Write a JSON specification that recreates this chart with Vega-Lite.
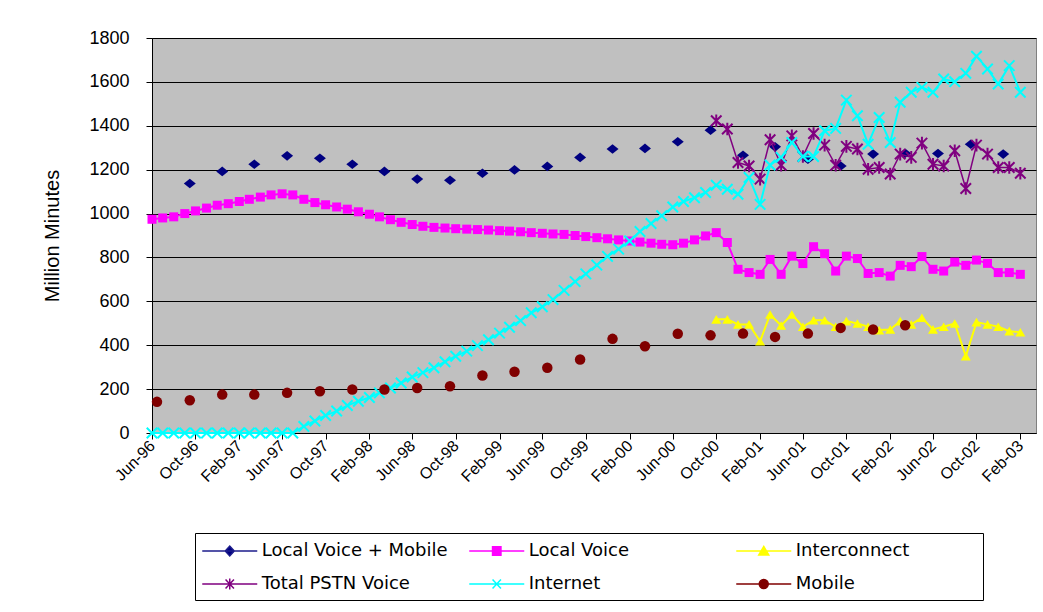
{
  "$schema": "https://vega.github.io/schema/vega-lite/v6.json",
  "width": 884,
  "height": 395,
  "autosize": {"type": "none"},
  "padding": {"left": 152, "top": 38, "right": 7, "bottom": 179},
  "background": "#ffffff",
  "config": {
    "view": {"fill": "#C0C0C0", "stroke": "#808080", "strokeWidth": 1},
    "point": {"opacity": 1}
  },
  "datasets": {
    "lvm": [
      {"date": "1996-09-15", "minutes": 1137}, {"date": "1996-12-15", "minutes": 1192},
      {"date": "1997-03-15", "minutes": 1225}, {"date": "1997-06-15", "minutes": 1263},
      {"date": "1997-09-15", "minutes": 1252}, {"date": "1997-12-15", "minutes": 1225},
      {"date": "1998-03-15", "minutes": 1192}, {"date": "1998-06-15", "minutes": 1157},
      {"date": "1998-09-15", "minutes": 1152}, {"date": "1998-12-15", "minutes": 1184},
      {"date": "1999-03-15", "minutes": 1199}, {"date": "1999-06-15", "minutes": 1215},
      {"date": "1999-09-15", "minutes": 1256}, {"date": "1999-12-15", "minutes": 1294},
      {"date": "2000-03-15", "minutes": 1297}, {"date": "2000-06-15", "minutes": 1327},
      {"date": "2000-09-15", "minutes": 1380}, {"date": "2000-12-15", "minutes": 1266},
      {"date": "2001-03-15", "minutes": 1304}, {"date": "2001-06-15", "minutes": 1248},
      {"date": "2001-09-15", "minutes": 1217}, {"date": "2001-12-15", "minutes": 1271},
      {"date": "2002-03-15", "minutes": 1275}, {"date": "2002-06-15", "minutes": 1274},
      {"date": "2002-09-15", "minutes": 1316}, {"date": "2002-12-15", "minutes": 1271}
    ],
    "mob": [
      {"date": "1996-06-15", "minutes": 142}, {"date": "1996-09-15", "minutes": 149},
      {"date": "1996-12-15", "minutes": 175}, {"date": "1997-03-15", "minutes": 175},
      {"date": "1997-06-15", "minutes": 183}, {"date": "1997-09-15", "minutes": 190},
      {"date": "1997-12-15", "minutes": 198}, {"date": "1998-03-15", "minutes": 198},
      {"date": "1998-06-15", "minutes": 205}, {"date": "1998-09-15", "minutes": 213},
      {"date": "1998-12-15", "minutes": 262}, {"date": "1999-03-15", "minutes": 279},
      {"date": "1999-06-15", "minutes": 297}, {"date": "1999-09-15", "minutes": 335},
      {"date": "1999-12-15", "minutes": 429}, {"date": "2000-03-15", "minutes": 395},
      {"date": "2000-06-15", "minutes": 452}, {"date": "2000-09-15", "minutes": 445},
      {"date": "2000-12-15", "minutes": 453}, {"date": "2001-03-15", "minutes": 438},
      {"date": "2001-06-15", "minutes": 453}, {"date": "2001-09-15", "minutes": 479},
      {"date": "2001-12-15", "minutes": 472}, {"date": "2002-03-15", "minutes": 491}
    ],
    "lv": [
      {"date": "1996-06-01", "minutes": 974}, {"date": "1996-07-01", "minutes": 980}, {"date": "1996-08-01", "minutes": 985}, {"date": "1996-09-01", "minutes": 1000}, {"date": "1996-10-01", "minutes": 1012}, {"date": "1996-11-01", "minutes": 1025}, {"date": "1996-12-01", "minutes": 1038},
      {"date": "1997-01-01", "minutes": 1045}, {"date": "1997-02-01", "minutes": 1055}, {"date": "1997-03-01", "minutes": 1065}, {"date": "1997-04-01", "minutes": 1075}, {"date": "1997-05-01", "minutes": 1085}, {"date": "1997-06-01", "minutes": 1090}, {"date": "1997-07-01", "minutes": 1085}, {"date": "1997-08-01", "minutes": 1065}, {"date": "1997-09-01", "minutes": 1050}, {"date": "1997-10-01", "minutes": 1040}, {"date": "1997-11-01", "minutes": 1030}, {"date": "1997-12-01", "minutes": 1020},
      {"date": "1998-01-01", "minutes": 1008}, {"date": "1998-02-01", "minutes": 997}, {"date": "1998-03-01", "minutes": 985}, {"date": "1998-04-01", "minutes": 972}, {"date": "1998-05-01", "minutes": 960}, {"date": "1998-06-01", "minutes": 950}, {"date": "1998-07-01", "minutes": 942}, {"date": "1998-08-01", "minutes": 937}, {"date": "1998-09-01", "minutes": 934}, {"date": "1998-10-01", "minutes": 931}, {"date": "1998-11-01", "minutes": 929}, {"date": "1998-12-01", "minutes": 927},
      {"date": "1999-01-01", "minutes": 925}, {"date": "1999-02-01", "minutes": 922}, {"date": "1999-03-01", "minutes": 920}, {"date": "1999-04-01", "minutes": 917}, {"date": "1999-05-01", "minutes": 913}, {"date": "1999-06-01", "minutes": 910}, {"date": "1999-07-01", "minutes": 907}, {"date": "1999-08-01", "minutes": 905}, {"date": "1999-09-01", "minutes": 900}, {"date": "1999-10-01", "minutes": 895}, {"date": "1999-11-01", "minutes": 890}, {"date": "1999-12-01", "minutes": 885},
      {"date": "2000-01-01", "minutes": 880}, {"date": "2000-02-01", "minutes": 875}, {"date": "2000-03-01", "minutes": 870}, {"date": "2000-04-01", "minutes": 865}, {"date": "2000-05-01", "minutes": 860}, {"date": "2000-06-01", "minutes": 858}, {"date": "2000-07-01", "minutes": 865}, {"date": "2000-08-01", "minutes": 880}, {"date": "2000-09-01", "minutes": 898}, {"date": "2000-10-01", "minutes": 913}, {"date": "2000-11-01", "minutes": 868}, {"date": "2000-12-01", "minutes": 746},
      {"date": "2001-01-01", "minutes": 731}, {"date": "2001-02-01", "minutes": 723}, {"date": "2001-03-01", "minutes": 791}, {"date": "2001-04-01", "minutes": 723}, {"date": "2001-05-01", "minutes": 806}, {"date": "2001-06-01", "minutes": 772}, {"date": "2001-07-01", "minutes": 849}, {"date": "2001-08-01", "minutes": 817}, {"date": "2001-09-01", "minutes": 738}, {"date": "2001-10-01", "minutes": 806}, {"date": "2001-11-01", "minutes": 795}, {"date": "2001-12-01", "minutes": 727},
      {"date": "2002-01-01", "minutes": 731}, {"date": "2002-02-01", "minutes": 715}, {"date": "2002-03-01", "minutes": 764}, {"date": "2002-04-01", "minutes": 758}, {"date": "2002-05-01", "minutes": 804}, {"date": "2002-06-01", "minutes": 746}, {"date": "2002-07-01", "minutes": 738}, {"date": "2002-08-01", "minutes": 779}, {"date": "2002-09-01", "minutes": 764}, {"date": "2002-10-01", "minutes": 788}, {"date": "2002-11-01", "minutes": 773}, {"date": "2002-12-01", "minutes": 731},
      {"date": "2003-01-01", "minutes": 731}, {"date": "2003-02-01", "minutes": 723}
    ],
    "net": [
      {"date": "1996-06-01", "minutes": 0}, {"date": "1996-07-01", "minutes": 0}, {"date": "1996-08-01", "minutes": 0}, {"date": "1996-09-01", "minutes": 0}, {"date": "1996-10-01", "minutes": 0}, {"date": "1996-11-01", "minutes": 0}, {"date": "1996-12-01", "minutes": 0},
      {"date": "1997-01-01", "minutes": 0}, {"date": "1997-02-01", "minutes": 0}, {"date": "1997-03-01", "minutes": 0}, {"date": "1997-04-01", "minutes": 0}, {"date": "1997-05-01", "minutes": 0}, {"date": "1997-06-01", "minutes": 0}, {"date": "1997-07-01", "minutes": 0}, {"date": "1997-08-01", "minutes": 30}, {"date": "1997-09-01", "minutes": 55}, {"date": "1997-10-01", "minutes": 80}, {"date": "1997-11-01", "minutes": 100}, {"date": "1997-12-01", "minutes": 125},
      {"date": "1998-01-01", "minutes": 145}, {"date": "1998-02-01", "minutes": 162}, {"date": "1998-03-01", "minutes": 183}, {"date": "1998-04-01", "minutes": 205}, {"date": "1998-05-01", "minutes": 228}, {"date": "1998-06-01", "minutes": 255}, {"date": "1998-07-01", "minutes": 275}, {"date": "1998-08-01", "minutes": 297}, {"date": "1998-09-01", "minutes": 325}, {"date": "1998-10-01", "minutes": 350}, {"date": "1998-11-01", "minutes": 373}, {"date": "1998-12-01", "minutes": 398},
      {"date": "1999-01-01", "minutes": 425}, {"date": "1999-02-01", "minutes": 455}, {"date": "1999-03-01", "minutes": 482}, {"date": "1999-04-01", "minutes": 512}, {"date": "1999-05-01", "minutes": 548}, {"date": "1999-06-01", "minutes": 575}, {"date": "1999-07-01", "minutes": 608}, {"date": "1999-08-01", "minutes": 650}, {"date": "1999-09-01", "minutes": 690}, {"date": "1999-10-01", "minutes": 725}, {"date": "1999-11-01", "minutes": 765}, {"date": "1999-12-01", "minutes": 805},
      {"date": "2000-01-01", "minutes": 838}, {"date": "2000-02-01", "minutes": 875}, {"date": "2000-03-01", "minutes": 918}, {"date": "2000-04-01", "minutes": 955}, {"date": "2000-05-01", "minutes": 990}, {"date": "2000-06-01", "minutes": 1030}, {"date": "2000-07-01", "minutes": 1055}, {"date": "2000-08-01", "minutes": 1072}, {"date": "2000-09-01", "minutes": 1096}, {"date": "2000-10-01", "minutes": 1129}, {"date": "2000-11-01", "minutes": 1111}, {"date": "2000-12-01", "minutes": 1088},
      {"date": "2001-01-01", "minutes": 1164}, {"date": "2001-02-01", "minutes": 1042}, {"date": "2001-03-01", "minutes": 1221}, {"date": "2001-04-01", "minutes": 1256}, {"date": "2001-05-01", "minutes": 1324}, {"date": "2001-06-01", "minutes": 1260}, {"date": "2001-07-01", "minutes": 1260}, {"date": "2001-08-01", "minutes": 1377}, {"date": "2001-09-01", "minutes": 1388}, {"date": "2001-10-01", "minutes": 1517}, {"date": "2001-11-01", "minutes": 1446}, {"date": "2001-12-01", "minutes": 1316},
      {"date": "2002-01-01", "minutes": 1438}, {"date": "2002-02-01", "minutes": 1324}, {"date": "2002-03-01", "minutes": 1507}, {"date": "2002-04-01", "minutes": 1553}, {"date": "2002-05-01", "minutes": 1575}, {"date": "2002-06-01", "minutes": 1553}, {"date": "2002-07-01", "minutes": 1613}, {"date": "2002-08-01", "minutes": 1601}, {"date": "2002-09-01", "minutes": 1639}, {"date": "2002-10-01", "minutes": 1717}, {"date": "2002-11-01", "minutes": 1659}, {"date": "2002-12-01", "minutes": 1590},
      {"date": "2003-01-01", "minutes": 1674}, {"date": "2003-02-01", "minutes": 1553}
    ],
    "pstn": [
      {"date": "2000-10-01", "minutes": 1423}, {"date": "2000-11-01", "minutes": 1385}, {"date": "2000-12-01", "minutes": 1233},
      {"date": "2001-01-01", "minutes": 1217}, {"date": "2001-02-01", "minutes": 1157}, {"date": "2001-03-01", "minutes": 1336}, {"date": "2001-04-01", "minutes": 1220}, {"date": "2001-05-01", "minutes": 1354}, {"date": "2001-06-01", "minutes": 1260}, {"date": "2001-07-01", "minutes": 1365}, {"date": "2001-08-01", "minutes": 1312}, {"date": "2001-09-01", "minutes": 1220}, {"date": "2001-10-01", "minutes": 1306}, {"date": "2001-11-01", "minutes": 1294}, {"date": "2001-12-01", "minutes": 1202},
      {"date": "2002-01-01", "minutes": 1210}, {"date": "2002-02-01", "minutes": 1180}, {"date": "2002-03-01", "minutes": 1271}, {"date": "2002-04-01", "minutes": 1256}, {"date": "2002-05-01", "minutes": 1321}, {"date": "2002-06-01", "minutes": 1225}, {"date": "2002-07-01", "minutes": 1217}, {"date": "2002-08-01", "minutes": 1286}, {"date": "2002-09-01", "minutes": 1114}, {"date": "2002-10-01", "minutes": 1312}, {"date": "2002-11-01", "minutes": 1271}, {"date": "2002-12-01", "minutes": 1210},
      {"date": "2003-01-01", "minutes": 1210}, {"date": "2003-02-01", "minutes": 1184}
    ],
    "ic": [
      {"date": "2000-10-01", "minutes": 518}, {"date": "2000-11-01", "minutes": 518}, {"date": "2000-12-01", "minutes": 495},
      {"date": "2001-01-01", "minutes": 495}, {"date": "2001-02-01", "minutes": 418}, {"date": "2001-03-01", "minutes": 540}, {"date": "2001-04-01", "minutes": 490}, {"date": "2001-05-01", "minutes": 540}, {"date": "2001-06-01", "minutes": 484}, {"date": "2001-07-01", "minutes": 514}, {"date": "2001-08-01", "minutes": 514}, {"date": "2001-09-01", "minutes": 484}, {"date": "2001-10-01", "minutes": 510}, {"date": "2001-11-01", "minutes": 499}, {"date": "2001-12-01", "minutes": 484},
      {"date": "2002-01-01", "minutes": 469}, {"date": "2002-02-01", "minutes": 472}, {"date": "2002-03-01", "minutes": 510}, {"date": "2002-04-01", "minutes": 495}, {"date": "2002-05-01", "minutes": 525}, {"date": "2002-06-01", "minutes": 472}, {"date": "2002-07-01", "minutes": 484}, {"date": "2002-08-01", "minutes": 499}, {"date": "2002-09-01", "minutes": 350}, {"date": "2002-10-01", "minutes": 505}, {"date": "2002-11-01", "minutes": 495}, {"date": "2002-12-01", "minutes": 484},
      {"date": "2003-01-01", "minutes": 464}, {"date": "2003-02-01", "minutes": 459}
    ],
    "keys": [
      {"series": "Local Voice + Mobile"}, {"series": "Local Voice"}, {"series": "Interconnect"},
      {"series": "Total PSTN Voice"}, {"series": "Internet"}, {"series": "Mobile"}
    ]
  },
  "encoding": {
    "x": {
      "field": "date",
      "type": "temporal",
      "scale": {
        "type": "utc",
        "domain": [
          {"year": 1996, "month": 6, "date": 1, "utc": true},
          {"year": 2003, "month": 3, "date": 17, "utc": true}
        ]
      },
      "axis": {
        "values": [
          {"year": 1996, "month": 6, "date": 1, "utc": true}, {"year": 1996, "month": 10, "date": 1, "utc": true},
          {"year": 1997, "month": 2, "date": 1, "utc": true}, {"year": 1997, "month": 6, "date": 1, "utc": true}, {"year": 1997, "month": 10, "date": 1, "utc": true},
          {"year": 1998, "month": 2, "date": 1, "utc": true}, {"year": 1998, "month": 6, "date": 1, "utc": true}, {"year": 1998, "month": 10, "date": 1, "utc": true},
          {"year": 1999, "month": 2, "date": 1, "utc": true}, {"year": 1999, "month": 6, "date": 1, "utc": true}, {"year": 1999, "month": 10, "date": 1, "utc": true},
          {"year": 2000, "month": 2, "date": 1, "utc": true}, {"year": 2000, "month": 6, "date": 1, "utc": true}, {"year": 2000, "month": 10, "date": 1, "utc": true},
          {"year": 2001, "month": 2, "date": 1, "utc": true}, {"year": 2001, "month": 6, "date": 1, "utc": true}, {"year": 2001, "month": 10, "date": 1, "utc": true},
          {"year": 2002, "month": 2, "date": 1, "utc": true}, {"year": 2002, "month": 6, "date": 1, "utc": true}, {"year": 2002, "month": 10, "date": 1, "utc": true},
          {"year": 2003, "month": 2, "date": 1, "utc": true}
        ],
        "labelExpr": "utcFormat(datum.value, '%b-%y')",
        "labelAngle": -45,
        "labelAlign": "right",
        "labelBaseline": "middle",
        "labelFont": "Liberation Sans",
        "labelFontSize": 16,
        "labelColor": "#000000",
        "labelPadding": 4,
        "labelOverlap": false,
        "labelBound": false,
        "grid": false,
        "domainColor": "#000000",
        "domainWidth": 1,
        "tickColor": "#000000",
        "tickSize": 6,
        "title": null
      }
    },
    "y": {
      "field": "minutes",
      "type": "quantitative",
      "scale": {"domain": [0, 1800], "nice": false, "zero": true},
      "axis": {
        "values": [0, 200, 400, 600, 800, 1000, 1200, 1400, 1600, 1800],
        "format": "d",
        "grid": true,
        "gridColor": "#000000",
        "gridWidth": 1,
        "domainColor": "#000000",
        "tickColor": "#000000",
        "tickSize": 6,
        "labelFont": "Liberation Sans",
        "labelFontSize": 18,
        "labelColor": "#000000",
        "labelPadding": 17,
        "title": "Million Minutes",
        "titleFont": "Liberation Sans",
        "titleFontSize": 20,
        "titleFontWeight": "normal",
        "titleColor": "#000000",
        "titleAngle": 270,
        "titleAlign": "center",
        "titleBaseline": "middle",
        "titleX": -100,
        "titleY": 197.5
      }
    }
  },
  "layer": [
    {
      "data": {"name": "lvm"},
      "mark": {"type": "point", "shape": "M-1,0L0,-0.8L1,0L0,0.8Z", "filled": true, "color": "#000080", "size": 144, "opacity": 1, "strokeWidth": 0}
    },
    {
      "data": {"name": "lv"},
      "mark": {"type": "line", "color": "#FF00FF", "strokeWidth": 2,
        "point": {"shape": "square", "filled": true, "color": "#FF00FF", "size": 81, "opacity": 1, "strokeWidth": 0}}
    },
    {
      "data": {"name": "ic"},
      "mark": {"type": "line", "color": "#FFFF00", "strokeWidth": 2,
        "point": {"shape": "triangle-up", "filled": true, "color": "#FFFF00", "size": 100, "opacity": 1, "strokeWidth": 0}}
    },
    {
      "data": {"name": "pstn"},
      "mark": {"type": "line", "color": "#800080", "strokeWidth": 1.5,
        "point": {"shape": "M-1,-1L1,1M-1,1L1,-1M0,-1.2V1.2", "filled": false, "color": "#800080", "size": 110, "opacity": 1, "strokeWidth": 2}}
    },
    {
      "data": {"name": "net"},
      "mark": {"type": "line", "color": "#00FFFF", "strokeWidth": 2,
        "point": {"shape": "M-1,-1L1,1M-1,1L1,-1", "filled": false, "color": "#00FFFF", "size": 110, "opacity": 1, "strokeWidth": 2}}
    },
    {
      "data": {"name": "mob"},
      "mark": {"type": "point", "shape": "circle", "filled": true, "color": "#800000", "size": 110, "opacity": 1, "strokeWidth": 0}
    },
    {
      "data": {"name": "keys"},
      "transform": [{"filter": "false"}],
      "mark": {"type": "point", "filled": true, "opacity": 1, "strokeWidth": 1.5},
      "encoding": {
        "x": {"value": 0},
        "y": {"value": 0},
        "fill": {
          "field": "series", "type": "nominal",
          "scale": {
            "domain": ["Local Voice + Mobile", "Local Voice", "Interconnect", "Total PSTN Voice", "Internet", "Mobile"],
            "range": ["#000080", "#FF00FF", "#FFFF00", "#800080", "#00FFFF", "#800000"]
          },
          "legend": {
            "orient": "none", "legendX": 43, "legendY": 495,
            "direction": "horizontal",
            "columns": 3, "gridAlign": "all", "columnPadding": 18, "rowPadding": 13,
            "padding": 7, "strokeColor": "#000000", "fillColor": "#ffffff",
            "title": null,
            "labelFont": "DejaVu Sans", "labelFontSize": 18, "labelColor": "#000000",
            "labelOffset": 21, "labelLimit": 400,
            "labelExpr": "datum.label === 'Interconnect' ? 'Interconnect\u2800\u2800\u2800\u2800\u2800' : datum.label",
            "symbolSize": 400, "symbolOffset": 16.75, "symbolStrokeWidth": 1.5, "symbolOpacity": 1
          }
        },
        "stroke": {
          "field": "series", "type": "nominal",
          "scale": {
            "domain": ["Local Voice + Mobile", "Local Voice", "Interconnect", "Total PSTN Voice", "Internet", "Mobile"],
            "range": ["#1C1C8C", "#FF00FF", "#FFFF00", "#800080", "#00FFFF", "#800000"]
          }
        },
        "shape": {
          "field": "series", "type": "nominal",
          "scale": {
            "domain": ["Local Voice + Mobile", "Local Voice", "Interconnect", "Total PSTN Voice", "Internet", "Mobile"],
            "range": [
              "M-2.75,0H2.75M-0.45,0L0,-0.5L0.45,0L0,0.5Z",
              "M-2.75,0H2.75M-0.42,-0.42H0.42V0.42H-0.42Z",
              "M-2.75,0H2.75M0,-0.45L0.5,0.4H-0.5Z",
              "M-2.75,0H2.75M-0.42,-0.45L0.42,0.45M-0.42,0.45L0.42,-0.45M0,-0.55V0.55",
              "M-2.75,0H2.75M-0.42,-0.45L0.42,0.45M-0.42,0.45L0.42,-0.45",
              "M-2.75,0H2.75M-0.45,0A0.45,0.45,0,1,1,0.45,0A0.45,0.45,0,1,1,-0.45,0Z"
            ]
          }
        }
      }
    }
  ]
}
